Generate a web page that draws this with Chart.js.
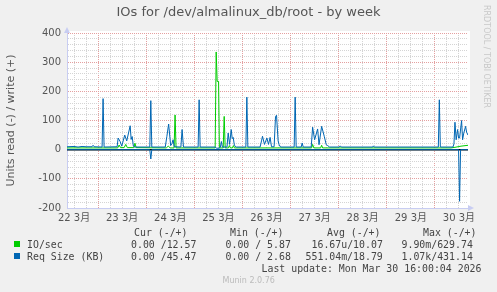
<!DOCTYPE html>
<html>
<head>
<meta charset="utf-8">
<script src="https://cdn.jsdelivr.net/npm/chart.js"></script>
<style>
  body { margin: 0; background: #f0f0f0; }
  #wrap { position: relative; width: 497px; height: 292px; overflow: hidden; }
  #chart { position: absolute; left: 0; top: 0; }
  .t { position: absolute; white-space: pre; font-family: "DejaVu Sans Mono", monospace; font-size: 9.9px; line-height: 12px; color: #444; }
  .box { position: absolute; width: 6px; height: 6px; }
</style>
</head>
<body>
<div id="wrap">
  <canvas id="chart" width="497" height="230"></canvas>
  <div style="position:absolute;left:0;width:497px;top:4px;text-align:center;font:13px 'DejaVu Sans';line-height:15px;color:#555">IOs for /dev/almalinux_db/root - by week</div>
  <div style="position:absolute;left:482px;top:5px;writing-mode:vertical-rl;font:8px 'DejaVu Sans';color:#c8c8c8">RRDTOOL / TOBI OETIKER</div>

  <div class="t" style="left:134px;top:227px">Cur (-/+)</div>
  <div class="t" style="left:230px;top:227px">Min (-/+)</div>
  <div class="t" style="left:327px;top:227px">Avg (-/+)</div>
  <div class="t" style="left:423px;top:227px">Max (-/+)</div>

  <div class="box" style="left:14px;top:241px;background:#00cc00"></div>
  <div class="t" style="left:27px;top:239px">IO/sec</div>
  <div class="t" style="left:131px;top:239px">0.00 /12.57</div>
  <div class="t" style="left:225.5px;top:239px">0.00 / 5.87</div>
  <div class="t" style="left:311.5px;top:239px">16.67u/10.07</div>
  <div class="t" style="left:401.5px;top:239px">9.90m/629.74</div>

  <div class="box" style="left:14px;top:253px;background:#0066b3"></div>
  <div class="t" style="left:27px;top:251px">Req Size (KB)</div>
  <div class="t" style="left:131px;top:251px">0.00 /45.47</div>
  <div class="t" style="left:225.5px;top:251px">0.00 / 2.68</div>
  <div class="t" style="left:305.5px;top:251px">551.04m/18.79</div>
  <div class="t" style="left:401.5px;top:251px">1.07k/431.14</div>

  <div class="t" style="left:261.5px;top:263px">Last update: Mon Mar 30 16:00:04 2026</div>
  <div style="position:absolute;left:222.5px;top:276px;font:8px 'DejaVu Sans';color:#bbb">Munin 2.0.76</div>
</div>
<script>
// hours counted from 22 Mar 00:00
const startHour = 8.5;
const endHour = 208.5;
const dayLabels = ["22 3月", "23 3月", "24 3月", "25 3月", "26 3月", "27 3月", "28 3月", "29 3月", "30 3月"];

// IO/sec write (+)
const ioWrite = [[8.5,6],[33.8,6],[34.5,16],[35.2,7],[37,7],[37.8,18],[38.6,7],[41.8,7],[42.4,22],[43,7],
  [58,6],[59,12],[60,6],[61.9,6],[62.4,119],[62.9,6],[82.4,6],[82.9,335],[83.4,234],[84.1,234],[84.5,6],
  [86.4,6],[86.9,114],[87.4,6],[89,6],[89.5,14],[90,6],[91,6],[91.5,14],[92,6],[130.5,6],[131,18],[131.6,6],
  [135,6],[135.5,15],[136,6],[200,6],[202,8],[205,12],[208.5,15]];

// Req Size write (+)
const reqWrite = [[8.5,10],[12,11],[14,9],[16,11],[18,10],[21,10],[21.5,15],[22,10],[26,9],[26.5,175],[27,9],
  [33.5,10],[34,40],[35,28],[35.8,12],[37.3,50],[38.3,30],[40,82],[40.5,35],[41,45],[41.6,12],[42.5,9],
  [49.8,9],[50.3,168],[50.8,9],[57.5,9],[58.3,45],[59.2,88],[60.2,14],[60.8,20],[61.4,34],[62,10],
  [65.3,9],[65.9,69],[66.6,9],[73.9,9],[74.4,171],[74.9,9],[82.5,9],[83,5],[84.5,5],[85,9],[85.5,28],[86,9],
  [88.3,9],[88.9,57],[89.6,18],[90.4,69],[90.9,38],[91.4,42],[92,14],[93,9],[97.7,9],[98.2,180],[98.7,9],
  [104.8,9],[105.5,30],[106,46],[107,18],[108.2,40],[109,18],[109.8,42],[110.5,10],[111.8,10],[112.5,114],
  [113,118],[113.8,30],[114.3,17],[115,9],[121.8,9],[122.3,180],[122.8,9],[125.3,9],[125.8,23],[126.3,9],
  [130.3,9],[131,77],[132,34],[133.5,71],[134.2,17],[135.5,80],[136.8,46],[137.8,17],[138.5,14],[139.5,9],
  [144.3,9],[144.8,13],[145.3,9],[161,9],[161.3,13],[161.8,9],[193.7,9],[194.2,171],[194.7,9],
  [201,9],[201.5,20],[202,94],[202.6,34],[203.3,69],[203.8,40],[204.3,40],[205.3,100],[205.8,34],
  [206.4,57],[207.3,80],[207.8,60],[208.5,50]];

// Req Size read (-)
const reqRead = [[8.5,0],[49.8,0],[50.3,-32],[50.8,0],[203.8,0],[204.3,-177],[204.8,0],[208.5,0]];

const toXY = arr => arr.map(p => ({ x: p[0], y: p[1] }));

const majorGrid = "#e4a0a0";
const minorGrid = "#d4d4d4";
const axisColor = "#c8cdf2";

const plotBg = {
  id: "plotBg",
  beforeDraw(chart) {
    const a = chart.chartArea;
    chart.ctx.save();
    chart.ctx.fillStyle = "#ffffff";
    chart.ctx.fillRect(a.left, a.top - 2, a.right - a.left + 2, a.bottom - a.top + 2);
    chart.ctx.restore();
  },
  afterDraw(chart) {
    const a = chart.chartArea, ctx = chart.ctx;
    ctx.save();
    ctx.fillStyle = axisColor;
    ctx.beginPath();
    ctx.moveTo(a.left - 3, a.top);
    ctx.lineTo(a.left + 3, a.top);
    ctx.lineTo(a.left, a.top - 6);
    ctx.fill();
    ctx.beginPath();
    ctx.moveTo(a.right, a.bottom - 3);
    ctx.lineTo(a.right, a.bottom + 3);
    ctx.lineTo(a.right + 6, a.bottom);
    ctx.fill();
    ctx.restore();
  }
};

new Chart(document.getElementById("chart"), {
  type: "line",
  data: {
    datasets: [
      { data: toXY(reqWrite), borderColor: "#0066b3", borderWidth: 1, order: 1 },
      { data: toXY(reqRead), borderColor: "#0066b3", borderWidth: 1, order: 1 },
      { data: toXY(ioWrite), borderColor: "#00cc00", borderWidth: 1, order: 2 },
      { data: [{ x: startHour, y: 0 }, { x: endHour, y: 0 }], borderColor: "#000000", borderWidth: 1.5, order: 3 }
    ]
  },
  options: {
    responsive: false,
    animation: false,
    devicePixelRatio: 1,
    layout: { padding: { left: 0, right: 29, top: 33, bottom: 0 } },
    elements: { point: { radius: 0 }, line: { tension: 0 } },
    plugins: { legend: { display: false }, tooltip: { enabled: false } },
    scales: {
      x: {
        type: "linear",
        min: startHour,
        max: endHour,
        afterBuildTicks(scale) {
          const t = [];
          for (let h = 12; h <= endHour; h += 6) t.push({ value: h });
          scale.ticks = t;
        },
        afterFit(scale) { scale.height = 22; },
        grid: {
          drawTicks: false,
          color: ctx => (ctx.tick && ctx.tick.value % 24 === 0) ? majorGrid : minorGrid
        },
        border: { display: true, color: axisColor, width: 1, dash: [1, 1] },
        ticks: {
          autoSkip: false,
          maxRotation: 0,
          padding: 4,
          color: "#555",
          font: { family: "'DejaVu Sans', 'Noto Sans CJK JP'", size: 10 },
          callback: v => (v % 24 === 12) ? dayLabels[(v - 12) / 24] : ""
        }
      },
      y: {
        min: -200,
        max: 400,
        afterBuildTicks(scale) {
          const t = [];
          for (let v = -200; v <= 400; v += 20) t.push({ value: v });
          scale.ticks = t;
        },
        afterFit(scale) { scale.width = 67; },
        grid: {
          drawTicks: false,
          color: ctx => (ctx.tick && ctx.tick.value % 100 === 0) ? majorGrid : minorGrid
        },
        border: { display: true, color: axisColor, width: 1, dash: [1, 1] },
        title: {
          display: true,
          text: "Units read (-) / write (+)",
          color: "#555",
          font: { family: "'DejaVu Sans'", size: 11 },
          padding: { top: 5, bottom: 0 }
        },
        ticks: {
          autoSkip: false,
          padding: 6,
          color: "#555",
          font: { family: "'DejaVu Sans'", size: 10 },
          callback: v => (v % 100 === 0) ? String(v) : ""
        }
      }
    }
  },
  plugins: [plotBg]
});
</script>
</body>
</html>
